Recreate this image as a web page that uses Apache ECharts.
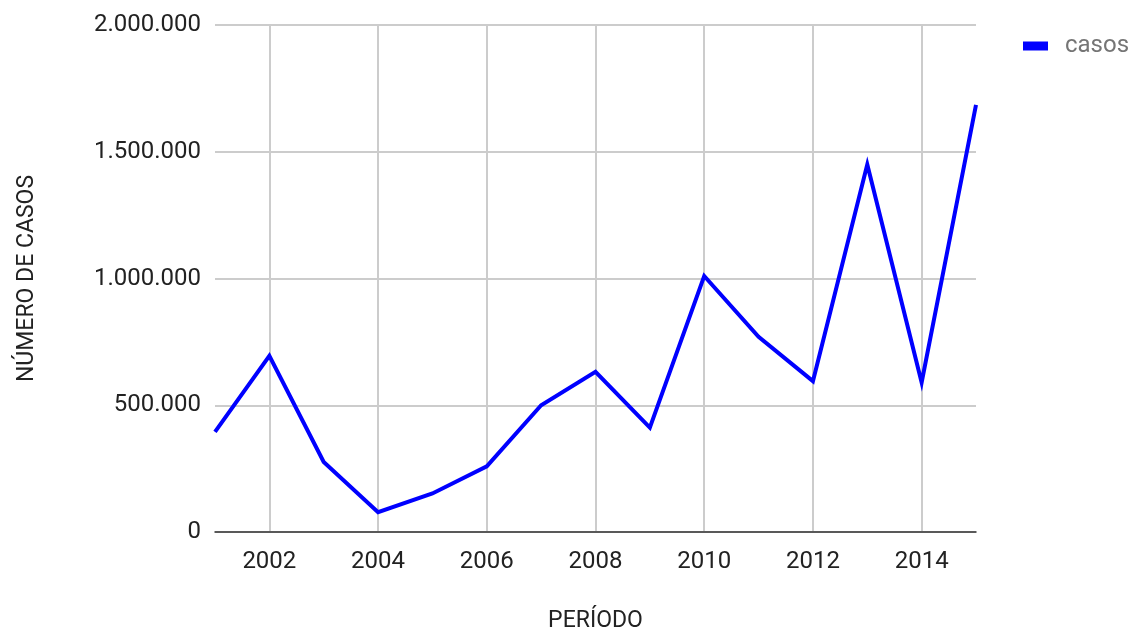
<!DOCTYPE html>
<html>
<head>
<meta charset="utf-8">
<script src="https://cdn.jsdelivr.net/npm/echarts@6/dist/echarts.min.js"></script>
<style>
html,body{margin:0;padding:0;background:#fff;}
#chart{width:1134px;height:634px;}
</style>
</head>
<body>
<div id="chart"></div>
<script>
var years = ['2001','2002','2003','2004','2005','2006','2007','2008','2009','2010','2011','2012','2013','2014','2015'];
var casos = [395000, 695000, 276000, 78000, 152000, 259000, 500000, 632000, 412000, 1010000, 770000, 595000, 1450000, 590000, 1685000];
var seriesName = 'casos';
var xAxisName = 'PERÍODO';
var yAxisName = 'NÚMERO DE CASOS';

function fmt(v){ return String(v).replace(/\B(?=(\d{3})+(?!\d))/g, '.'); }
function everyOther(idx){ return idx % 2 === 1; }

var chart = echarts.init(document.getElementById('chart'), null, {renderer:'canvas'});
chart.setOption({
  animation:false,
  backgroundColor:'#ffffff',
  textStyle:{fontFamily:'Roboto'},
  grid:{left:215, right:158, top:25, bottom:102, containLabel:false, outerBoundsMode:'none'},
  legend:{
    data:[seriesName],
    left:1018, top:29,
    icon:'rect', itemWidth:25, itemHeight:9,
    textStyle:{color:'#757575', fontSize:24, fontFamily:'Roboto', padding:[0,0,0,12]}
  },
  xAxis:{
    type:'category', data:years, boundaryGap:false,
    name:xAxisName, nameLocation:'middle', nameGap:78,
    nameTextStyle:{color:'#222', fontSize:23, fontFamily:'Roboto'},
    axisLine:{lineStyle:{color:'#333', width:1.5}},
    axisTick:{show:false},
    axisLabel:{interval:everyOther, color:'#222', fontSize:24, margin:18, fontFamily:'Roboto'},
    splitLine:{show:true, interval:everyOther, lineStyle:{color:'#cccccc', width:2}}
  },
  yAxis:{
    type:'value', min:0, max:2000000, interval:500000,
    name:yAxisName, nameLocation:'middle', nameGap:176, nameRotate:90,
    nameTextStyle:{color:'#222', fontSize:23, fontFamily:'Roboto'},
    axisLine:{show:false}, axisTick:{show:false},
    axisLabel:{color:'#222', fontSize:24, margin:14, formatter:fmt, fontFamily:'Roboto'},
    splitLine:{lineStyle:{color:'#cccccc', width:2}}
  },
  series:[{
    name:seriesName, type:'line', data:casos,
    showSymbol:false, symbol:'none',
    color:'#0000ff',
    lineStyle:{color:'#0000ff', width:4, join:'miter'}
  }]
});
</script>
</body>
</html>
